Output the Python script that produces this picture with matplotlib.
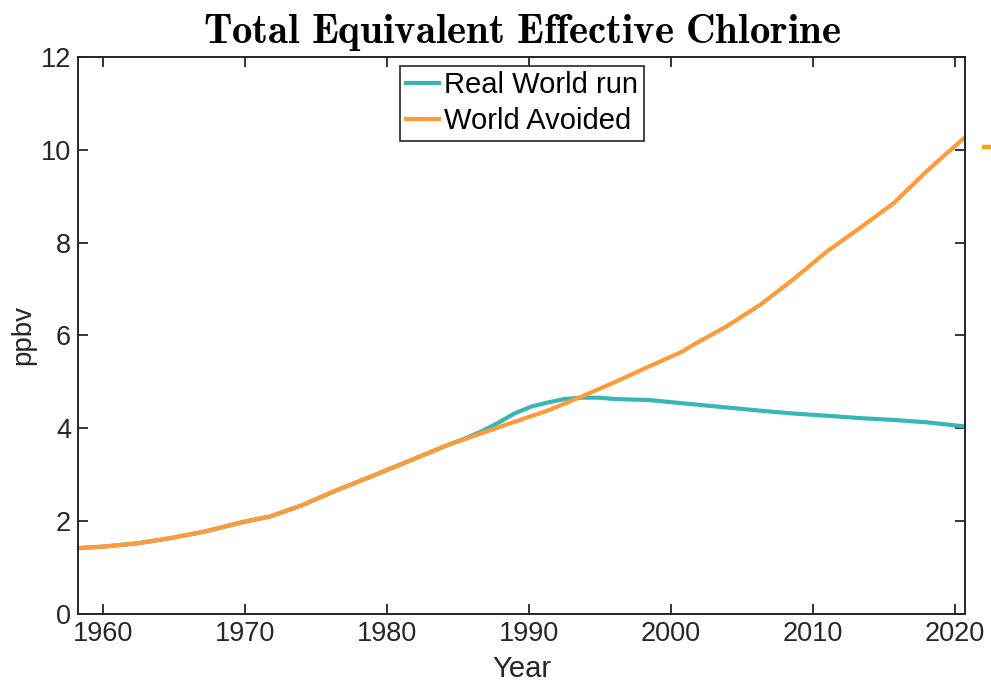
import matplotlib
matplotlib.use("Agg")
import matplotlib.pyplot as plt
from matplotlib.lines import Line2D

# Total equivalent effective chlorine (ppbv)
years_avoided = [1958.3, 1960.0, 1962.4, 1964.7, 1967.1, 1970.0, 1971.8, 1974.1,
                 1976.5, 1978.9, 1980.0, 1982.0, 1984.3, 1986.65, 1989.0, 1991.4,
                 1993.7, 1996.1, 1998.45, 2000.8, 2001.6, 2003.9, 2006.3, 2008.6,
                 2011.0, 2013.3, 2015.7, 2018.0, 2019.2, 2020.73]
world_avoided = [1.42, 1.45, 1.52, 1.63, 1.77, 1.99, 2.10, 2.35,
                 2.67, 2.96, 3.10, 3.35, 3.64, 3.89, 4.14, 4.39,
                 4.68, 5.00, 5.33, 5.65, 5.80, 6.19, 6.66, 7.20,
                 7.81, 8.31, 8.85, 9.53, 9.86, 10.27]

years_real = [1958.3, 1960.0, 1962.4, 1964.7, 1967.1, 1970.0, 1971.8, 1974.1,
              1976.5, 1978.9, 1980.0, 1982.0, 1984.3, 1985.5, 1986.65, 1987.8,
              1989.0, 1990.2, 1991.4, 1992.5, 1993.7, 1994.9, 1996.1, 1998.45,
              2000.8, 2003.9, 2006.3, 2008.6, 2011.0, 2013.3, 2015.7, 2018.0,
              2020.73]
real_world = [1.42, 1.45, 1.52, 1.63, 1.77, 1.99, 2.10, 2.35,
              2.67, 2.96, 3.10, 3.35, 3.64, 3.78, 3.93, 4.11,
              4.32, 4.47, 4.56, 4.63, 4.66, 4.66, 4.63, 4.61,
              4.54, 4.45, 4.38, 4.32, 4.27, 4.22, 4.18, 4.13,
              4.04]

x_ticks = [1960, 1970, 1980, 1990, 2000, 2010, 2020]
y_ticks = [0, 2, 4, 6, 8, 10, 12]

TEAL = "#36b7b3"
ORANGE = "#ff9a38"
AXCOL = "#262626"

plt.rcParams["font.family"] = ["Liberation Sans", "DejaVu Sans"]
plt.rcParams["mathtext.fontset"] = "cm"

fig = plt.figure(figsize=(9.91, 6.88), dpi=100)
ax = fig.add_axes([0.0787, 0.1076, 0.8951, 0.8096])

ax.plot(years_real, real_world, color=TEAL, lw=3.0, label="Real World run",
        solid_joinstyle="round")
ax.plot(years_avoided, world_avoided, color=ORANGE, lw=3.0, label="World Avoided",
        solid_joinstyle="round")

ax.set_xlim(1958.26, 2020.73)
ax.set_ylim(0, 12)
ax.set_xticks(x_ticks)
ax.set_yticks(y_ticks)
ax.tick_params(direction="in", length=7, width=1.3, top=True, right=True,
               labelsize=19.5, colors=AXCOL, pad=5)
for s in ax.spines.values():
    s.set_color(AXCOL)
    s.set_linewidth(1.4)

ax.set_xlabel("Year", fontsize=21, color=AXCOL, labelpad=6)
ax.set_ylabel("ppbv", fontsize=20, color=AXCOL, labelpad=3)
ax.set_title(r"$\mathbf{Total\ Equivalent\ Effective\ Chlorine}$",
             fontsize=29.5, color="black", pad=10)

leg = ax.legend(loc="upper center", bbox_to_anchor=(0.5006, 0.995), fontsize=21,
                frameon=True, fancybox=False, framealpha=1, edgecolor=AXCOL,
                handlelength=1.15, handletextpad=0.18, borderpad=0.2,
                labelspacing=0.26, borderaxespad=0.2)
leg.get_frame().set_linewidth(1.2)

# short orange dash at the right margin
fig.add_artist(Line2D([982 / 991, 991 / 991], [1 - 147 / 688, 1 - 147 / 688],
                      color="#ffa514", lw=3.2, solid_capstyle="butt"))

fig.savefig("out.png", dpi=100)
